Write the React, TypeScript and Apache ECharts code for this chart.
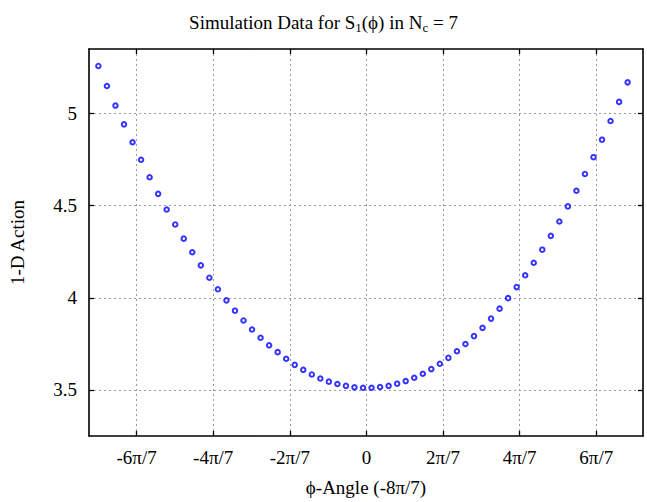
import React, { useEffect, useRef } from "react";
import * as echarts from "echarts";

const TITLE_PARTS = ["Simulation Data for S", "1", "(\u03D5) in N", "c", " = 7"];
const X_NAME = "\u03D5-Angle (-8π/7)";
const Y_NAME = "1-D Action";

const PHI = [
  -3.14, -3.04, -2.94, -2.84, -2.74, -2.64, -2.54, -2.44, -2.34, -2.24, -2.14,
  -2.04, -1.94, -1.84, -1.74, -1.64, -1.54, -1.44, -1.34, -1.24, -1.14, -1.04,
  -0.94, -0.84, -0.74, -0.64, -0.54, -0.44, -0.34, -0.24, -0.14, -0.04, 0.06,
  0.16, 0.26, 0.36, 0.46, 0.56, 0.66, 0.76, 0.86, 0.96, 1.06, 1.16, 1.26, 1.36,
  1.46, 1.56, 1.66, 1.76, 1.86, 1.96, 2.06, 2.16, 2.26, 2.36, 2.46, 2.56, 2.66,
  2.76, 2.86, 2.96, 3.06,
];

const ACTION = [
  5.258, 5.149, 5.043, 4.941, 4.844, 4.749, 4.654, 4.564, 4.479, 4.398, 4.321,
  4.247, 4.176, 4.109, 4.046, 3.986, 3.93, 3.877, 3.828, 3.783, 3.742, 3.705,
  3.669, 3.636, 3.609, 3.584, 3.562, 3.545, 3.532, 3.522, 3.514, 3.512, 3.512,
  3.516, 3.522, 3.534, 3.548, 3.566, 3.588, 3.613, 3.642, 3.674, 3.71, 3.749,
  3.792, 3.837, 3.887, 3.941, 3.998, 4.058, 4.122, 4.19, 4.261, 4.336, 4.414,
  4.496, 4.581, 4.672, 4.763, 4.858, 4.959, 5.063, 5.169,
];

// tick numerators for multiples of π/7
const X_TICK_NUMS = [-6, -4, -2, 0, 2, 4, 6];
const Y_TICKS = [3.5, 4, 4.5, 5];

const X_MIN = -3.25;
const X_MAX = 3.24;
const Y_MIN = 3.25;
const Y_MAX = 5.35;

const FONT = "Liberation Serif";

export default function App() {
  const ref = useRef<HTMLDivElement>(null);

  useEffect(() => {
    document.body.style.margin = "0";
    if (!ref.current) return;
    const chart = echarts.init(ref.current, null, { renderer: "svg" });

    const xTicks = X_TICK_NUMS.map((n) => (n * Math.PI) / 7);
    const xFmt = (v: number) => {
      const n = Math.round((v * 7) / Math.PI);
      return n === 0 ? "0" : `${n}π/7`;
    };
    const yFmt = (v: number) => String(v);

    const split = () => ({
      show: true,
      lineStyle: { color: "#9a9a9a", width: 1, type: [2, 3] as any },
    });
    const axisLine = () => ({
      show: true,
      onZero: false,
      lineStyle: { color: "#000", width: 1.6 },
    });
    const tickStyle = (vals: number[]) => ({
      show: true,
      inside: true,
      length: 5,
      customValues: vals,
      lineStyle: { color: "#000", width: 1.3 },
    });

    const data = PHI.map((x, i) => [x, ACTION[i]]);

    chart.setOption({
      animation: false,
      backgroundColor: "#fff",
      title: {
        text:
          TITLE_PARTS[0] +
          "{sub|" + TITLE_PARTS[1] + "}" +
          TITLE_PARTS[2] +
          "{sub|" + TITLE_PARTS[3] + "}" +
          TITLE_PARTS[4],
        left: "center",
        top: 10,
        padding: 0,
        textStyle: {
          fontFamily: FONT,
          fontSize: 19,
          fontWeight: "normal",
          color: "#000",
          lineHeight: 24,
          rich: {
            sub: {
              fontFamily: FONT,
              fontSize: 13,
              color: "#000",
              verticalAlign: "bottom",
              lineHeight: 10,
            },
          },
        },
      },
      grid: {
        left: 89,
        right: 4,
        top: 49,
        bottom: 62,
        containLabel: false,
      },
      xAxis: [
        {
          type: "value",
          min: X_MIN,
          max: X_MAX,
          position: "bottom",
          name: X_NAME,
          nameLocation: "middle",
          nameGap: 42,
          nameTextStyle: { fontFamily: FONT, fontSize: 19, color: "#000" },
          axisLine: axisLine(),
          axisTick: tickStyle(xTicks),
          axisLabel: {
            customValues: xTicks,
            formatter: xFmt,
            fontFamily: FONT,
            fontSize: 19,
            color: "#000",
            margin: 12,
          },
          splitLine: split(),
        },
        {
          type: "value",
          min: X_MIN,
          max: X_MAX,
          position: "top",
          axisLine: axisLine(),
          axisTick: tickStyle(xTicks),
          axisLabel: { show: false, customValues: xTicks },
          splitLine: { show: false },
        },
      ],
      yAxis: [
        {
          type: "value",
          min: Y_MIN,
          max: Y_MAX,
          position: "left",
          name: Y_NAME,
          nameLocation: "middle",
          nameGap: 62,
          nameTextStyle: { fontFamily: FONT, fontSize: 19, color: "#000" },
          axisLine: axisLine(),
          axisTick: tickStyle(Y_TICKS),
          axisLabel: {
            customValues: Y_TICKS,
            formatter: yFmt,
            fontFamily: FONT,
            fontSize: 19,
            color: "#000",
            margin: 12,
          },
          splitLine: split(),
        },
        {
          type: "value",
          min: Y_MIN,
          max: Y_MAX,
          position: "right",
          axisLine: axisLine(),
          axisTick: tickStyle(Y_TICKS),
          axisLabel: { show: false, customValues: Y_TICKS },
          splitLine: { show: false },
        },
      ],
      series: [
        {
          type: "scatter",
          xAxisIndex: 0,
          yAxisIndex: 0,
          data,
          symbol: "emptyCircle",
          symbolSize: 4.5,
          itemStyle: { color: "#0000ff", borderColor: "#0000ff", borderWidth: 1.2 },
        },
      ],
    });

    return () => chart.dispose();
  }, []);

  return <div ref={ref} style={{ width: 647, height: 502 }} />;
}
